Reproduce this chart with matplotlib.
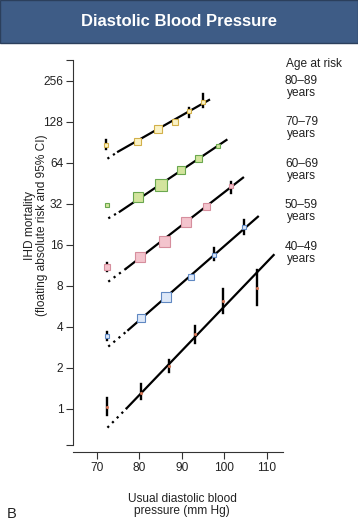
import matplotlib.pyplot as plt
from matplotlib.patches import Rectangle

plt.rcParams['font.family'] = ['Liberation Sans', 'DejaVu Sans']

# age groups, top to bottom
ages = ["80\u201389", "70\u201379", "60\u201369", "50\u201359", "40\u201349"]

# usual diastolic BP (mm Hg) for each group
dbp = [
    [72.1, 79.5, 84.3, 88.5, 91.6, 95.0],
    [72.5, 79.6, 85.0, 89.8, 93.8, 98.5],
    [72.5, 80.1, 85.7, 90.9, 95.7, 101.5],
    [72.5, 80.4, 86.3, 92.2, 97.5, 104.6],
    [72.3, 80.4, 86.9, 93.2, 99.6, 107.6],
]

# floating absolute risk
risk = [
    [86.7, 92.3, 113, 128, 154, 180],
    [31.6, 35.8, 44.0, 56.8, 69.3, 85.3],
    [11.0, 13.1, 17.1, 23.5, 30.8, 43.2],
    [3.43, 4.64, 6.6, 9.27, 13.6, 21.8],
    [1.04, 1.32, 2.07, 3.56, 6.24, 7.68],
]

# 95% CI
ci_lo = [
    [80.9, 92.3, 113, 128, 140, 165.8],
    [31.6, 35.8, 44.0, 56.8, 69.3, 85.3],
    [10.3, 13.1, 17.1, 23.5, 30.8, 38.6],
    [3.21, 4.64, 6.6, 9.27, 12.4, 19.3],
    [0.90, 1.18, 1.87, 3.05, 5.07, 5.8],
]
ci_hi = [
    [94.4, 92.3, 113, 128, 161, 204.5],
    [31.6, 35.8, 44.0, 56.8, 69.3, 85.3],
    [11.8, 13.1, 17.1, 23.5, 30.8, 46.5],
    [3.68, 4.64, 6.6, 9.27, 15.2, 24.4],
    [1.20, 1.53, 2.29, 4.06, 7.61, 10.4],
]

# fitted line: dotted start, solid start, end
fit_x = [
    [72.5, 75.0, 96.4],
    [72.7, 75.4, 100.5],
    [72.7, 77.0, 104.4],
    [72.7, 77.4, 107.9],
    [72.5, 77.0, 111.6],
]
fit_y = [
    [68.8, 77.5, 185.7],
    [25.1, 28.1, 94.4],
    [8.6, 10.8, 49.9],
    [2.87, 3.80, 25.8],
    [0.729, 1.01, 13.5],
]

# styling
box_px = [
    [4, 7, 8, 6, 4, 4],
    [5, 10, 12, 8, 7, 5],
    [6, 10, 11, 10, 7, 5],
    [5, 8, 10, 6, 5, 4],
    [2, 2, 2, 2, 2, 2],
]
fills = ['#fbf3c6', '#d3e49d', '#f3c4cd', '#dde8f8', '#e08a6a']
edges = ['#d2b04a', '#6aa84f', '#d68e9d', '#5f88c2', '#d07050']
label_y = [87, 128, 170, 211, 253]
fs = 8.6

W, H = 358, 523
fig = plt.figure(figsize=(W / 100, H / 100), dpi=100)

# header bar
fig.patches.append(Rectangle((0, 1 - 43 / H), 1, 43 / H, transform=fig.transFigure,
                             facecolor='#3e5c86', edgecolor='#2b3f5c', lw=1))
fig.text(0.5, 1 - 22 / H, "Diastolic Blood Pressure", color='white',
         fontsize=12, fontweight='bold', ha='center', va='center')

ax = fig.add_axes([73 / W, 1 - 452 / H, 210 / W, 392 / H])
ax.set_yscale('log', base=2)
ax.set_xlim(64.4, 113.8)
ax.set_ylim(0.483, 365)

for g in range(len(ages)):
    fx, fy = fit_x[g], fit_y[g]
    ax.plot(fx[:2], fy[:2], color='black', lw=1.6, ls=(0, (1, 2)), zorder=2)
    ax.plot(fx[1:], fy[1:], color='black', lw=1.6, zorder=2)
    for i in range(len(dbp[g])):
        x, y = dbp[g][i], risk[g][i]
        if ci_hi[g][i] > ci_lo[g][i]:
            ax.plot([x, x], [ci_lo[g][i], ci_hi[g][i]], color='black', lw=1.7, zorder=3)
        ax.plot(x, y, marker='s' if g < 4 else 'o', ms=box_px[g][i] * 0.72,
                mfc=fills[g], mec=edges[g], mew=0.8, zorder=4)

ax.set_yticks([1, 2, 4, 8, 16, 32, 64, 128, 256])
ax.set_yticklabels(['1', '2', '4', '8', '16', '32', '64', '128', '256'])
ax.set_yticks([0.544, 365], minor=True)
ax.set_yticklabels(['', ''], minor=True)
ax.set_xticks([70, 80, 90, 100, 110])
ax.tick_params(which='both', direction='out', length=5, width=0.8,
               labelsize=fs, color='#333333', labelcolor='#222222', pad=2)
for s in ['top', 'right']:
    ax.spines[s].set_visible(False)
ax.spines['left'].set_bounds(0.544, 365)
for s in ['left', 'bottom']:
    ax.spines[s].set_color('#333333')
    ax.spines[s].set_linewidth(0.8)

fig.text(36 / W, 1 - 225 / H, "IHD mortality\n(floating absolute risk and 95% CI)",
         rotation=90, ha='center', va='center', multialignment='center',
         fontsize=fs, color='#222222', linespacing=1.05)
fig.text(182 / W, 1 - 505 / H, "Usual diastolic blood\npressure (mm Hg)",
         ha='center', va='center', multialignment='center', fontsize=fs, color='#222222',
         linespacing=1.05)
fig.text(314 / W, 1 - 64 / H, "Age at risk", ha='center', va='center',
         fontsize=fs, color='#222222')
for lab, yy in zip(ages, label_y):
    fig.text(301.5 / W, 1 - yy / H, lab + "\nyears", ha='center', va='center',
             multialignment='center', fontsize=fs, color='#222222', linespacing=1.1)
fig.text(12 / W, 1 - 514 / H, "B", ha='center', va='center', fontsize=10.5, color='#222222')

fig.savefig('out.png', dpi=100)
